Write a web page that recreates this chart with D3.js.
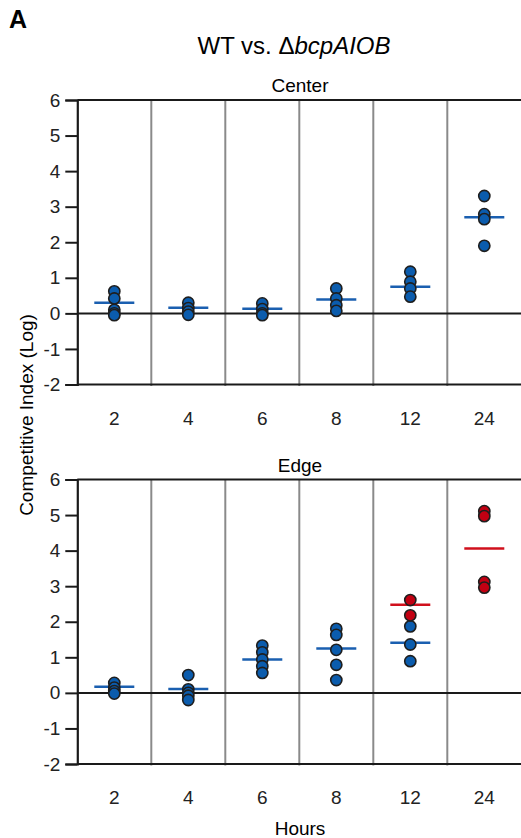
<!DOCTYPE html>
<html>
<head>
<meta charset="utf-8">
<script src="https://cdn.jsdelivr.net/npm/d3@7"></script>
<style>
  body { margin: 0; background: #fff; }
  svg { display: block; font-family: Arial, "Liberation Sans", Helvetica, sans-serif; }
</style>
</head>
<body>
<svg id="chart" width="521" height="838"></svg>
<script>
// hours (categories)
const hours = ['2', '4', '6', '8', '12', '24'];

// Center panel, blue series
const centerBlue = [
  [0.62, 0.42, 0.1, 0.0, -0.05],
  [0.3, 0.15, 0.05, -0.04],
  [0.28, 0.12, 0.0, -0.05],
  [0.7, 0.42, 0.23, 0.07],
  [1.17, 0.89, 0.7, 0.47],
  [3.3, 2.79, 2.65, 1.9]
];
const centerBlueLine = [0.3, 0.16, 0.13, 0.39, 0.75, 2.7];

// Edge panel, blue and red series
const edgeBlue = [
  [0.28, 0.15, 0.05, -0.02],
  [0.5, 0.1, 0.0, -0.08, -0.2],
  [1.33, 1.14, 0.94, 0.75, 0.56],
  [1.8, 1.63, 1.21, 0.79, 0.36],
  [1.87, 1.36, 0.89],
  []
];
const edgeBlueLine = [0.17, 0.11, 0.94, 1.25, 1.41, null];
const edgeRed = [[], [], [], [], [2.61, 2.18], [5.11, 4.97, 3.12, 2.96]];
const edgeRedLine = [null, null, null, null, 2.48, 4.06];

const yTicks = [-2, -1, 0, 1, 2, 3, 4, 5, 6];

const BLUE = '#0b5cad', BLUE_LINE = '#1a5fb0';
const RED = '#c20012', RED_LINE = '#d0101c';

const svg = d3.select('#chart');
const left = 77.3, right = 521.3;

const x = d3.scaleBand().domain(hours).range([left, right]);

svg.append('text').attr('x', 9).attr('y', 28)
  .attr('font-size', 25).attr('font-weight', 'bold').text('A');

const title = svg.append('text').attr('x', 294).attr('y', 54)
  .attr('text-anchor', 'middle').attr('font-size', 24);
title.append('tspan').text('WT vs. \u0394');
title.append('tspan').attr('font-style', 'italic').text('bcpAIOB');

svg.append('text')
  .attr('transform', 'translate(33,415) rotate(-90)')
  .attr('text-anchor', 'middle').attr('font-size', 19)
  .text('Competitive Index (Log)');

svg.append('text').attr('x', 300).attr('y', 835)
  .attr('text-anchor', 'middle').attr('font-size', 19).text('Hours');

function panel(top, label, series) {
  const bottom = top + 284.5;
  const y = d3.scaleLinear().domain([-2, 6]).range([bottom, top]);
  const g = svg.append('g');

  g.append('text').attr('x', 300).attr('y', top - 8)
    .attr('text-anchor', 'middle').attr('font-size', 19).text(label);

  // column separators
  g.selectAll('.sep').data(hours.slice(1)).join('line')
    .attr('x1', d => x(d)).attr('x2', d => x(d))
    .attr('y1', top).attr('y2', bottom + 1.5)
    .attr('stroke', '#8a8a8a').attr('stroke-width', 2);

  // top & bottom frame, zero line
  [6, -2, 0].forEach(v => {
    g.append('line').attr('x1', left).attr('x2', right)
      .attr('y1', y(v)).attr('y2', y(v))
      .attr('stroke', '#1a1a1a').attr('stroke-width', 2);
  });

  const yAxis = d3.axisLeft(y).tickValues(yTicks).tickSize(12).tickPadding(5)
    .tickFormat(d3.format('d'));
  const ag = g.append('g').attr('transform', `translate(${left},0)`).call(yAxis);
  ag.select('.domain').attr('stroke', '#1a1a1a').attr('stroke-width', 2.2);
  ag.selectAll('.tick line').attr('stroke', '#1a1a1a').attr('stroke-width', 2);
  ag.selectAll('.tick text').attr('font-size', 19).attr('fill', '#222')
    .attr('font-family', 'Arial, "Liberation Sans", sans-serif')
    .text(d => d < 0 ? '-' + Math.abs(d) : d);

  g.selectAll('.xl').data(hours).join('text')
    .attr('x', d => x(d) + x.bandwidth() / 2).attr('y', bottom + 40)
    .attr('text-anchor', 'middle').attr('font-size', 19).attr('fill', '#222')
    .text(d => d);

  series.forEach(s => {
    // mean lines
    g.selectAll(null).data(hours.map((h, i) => ({ h, v: s.line[i] })).filter(d => d.v != null))
      .join('line')
      .attr('x1', d => x(d.h) + x.bandwidth() / 2 - 20)
      .attr('x2', d => x(d.h) + x.bandwidth() / 2 + 20)
      .attr('y1', d => y(d.v)).attr('y2', d => y(d.v))
      .attr('stroke', s.lineColor).attr('stroke-width', 2.5);

    const pts = [];
    s.points.forEach((arr, i) => arr.forEach(v => pts.push({ h: hours[i], v })));
    g.selectAll(null).data(pts).join('circle')
      .attr('cx', d => x(d.h) + x.bandwidth() / 2)
      .attr('cy', d => y(d.v))
      .attr('r', 5.6)
      .attr('fill', s.color).attr('stroke', '#1e1e1e').attr('stroke-width', 1.6);
  });
}

panel(100, 'Center', [
  { points: centerBlue, line: centerBlueLine, color: BLUE, lineColor: BLUE_LINE }
]);
panel(479.5, 'Edge', [
  { points: edgeBlue, line: edgeBlueLine, color: BLUE, lineColor: BLUE_LINE },
  { points: edgeRed, line: edgeRedLine, color: RED, lineColor: RED_LINE }
]);
</script>
</body>
</html>
